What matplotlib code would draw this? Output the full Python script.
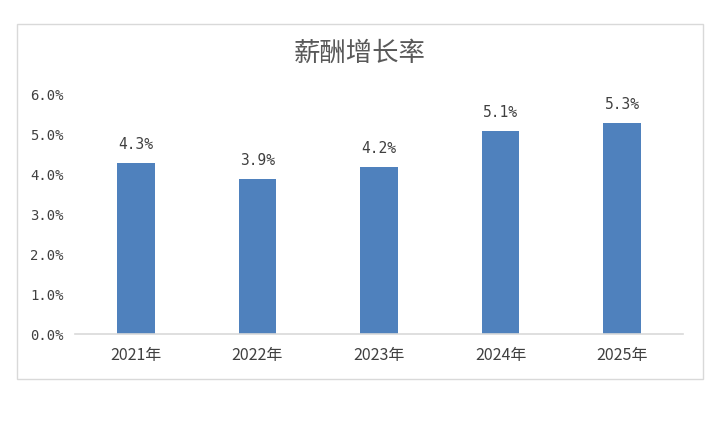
import matplotlib.pyplot as plt
import matplotlib.patches as mpatches
from matplotlib.ticker import FuncFormatter

plt.rcParams['font.family'] = ['Noto Sans CJK SC', 'DejaVu Sans']

# data
years = ['2021年', '2022年', '2023年', '2024年', '2025年']
growth = [4.3, 3.9, 4.2, 5.1, 5.3]
y_ticks = [0, 1, 2, 3, 4, 5, 6]

W, H = 720, 423
fig = plt.figure(figsize=(W / 100, H / 100), dpi=100)

# outer chart frame
frame = mpatches.Rectangle((17 / W, (H - 379) / H), 686 / W, 355 / H,
                           transform=fig.transFigure, fill=False,
                           edgecolor='#d9d9d9', linewidth=1.0)
fig.patches.append(frame)

ax = fig.add_axes([75 / W, (H - 334) / H, (683 - 75) / W, (334 - 95) / H])

x = range(len(years))
bars = ax.bar(x, growth, width=0.31, color='#4f81bd')

ax.set_xlim(-0.5, len(years) - 0.5)
ax.set_ylim(0, 6)
ax.set_yticks(y_ticks)
ax.yaxis.set_major_formatter(FuncFormatter(lambda v, p: f'{v:.1f}%'))
ax.set_xticks(list(x))
ax.set_xticklabels(years)

ax.tick_params(axis='y', length=0, pad=8, labelsize=10, labelcolor='#404040')
ax.tick_params(axis='x', length=0, pad=9, labelsize=11.5, labelcolor='#404040')
for lbl in ax.get_yticklabels():
    lbl.set_family('DejaVu Sans Mono')

for s in ['top', 'right', 'left']:
    ax.spines[s].set_visible(False)
ax.spines['bottom'].set_color('#d9d9d9')
ax.spines['bottom'].set_linewidth(1.2)

# value labels above bars
for rect, v in zip(bars, growth):
    ax.annotate(f'{v:.1f}%', (rect.get_x() + rect.get_width() / 2, v),
                xytext=(0, 8), textcoords='offset points',
                ha='center', va='bottom', fontsize=10.5, color='#404040',
                family='DejaVu Sans Mono')

fig.text(360 / W, (H - 53) / H, '薪酬增长率', ha='center', va='center',
         fontsize=19, color='#595959')

fig.savefig('out.png', dpi=100, facecolor='white')
